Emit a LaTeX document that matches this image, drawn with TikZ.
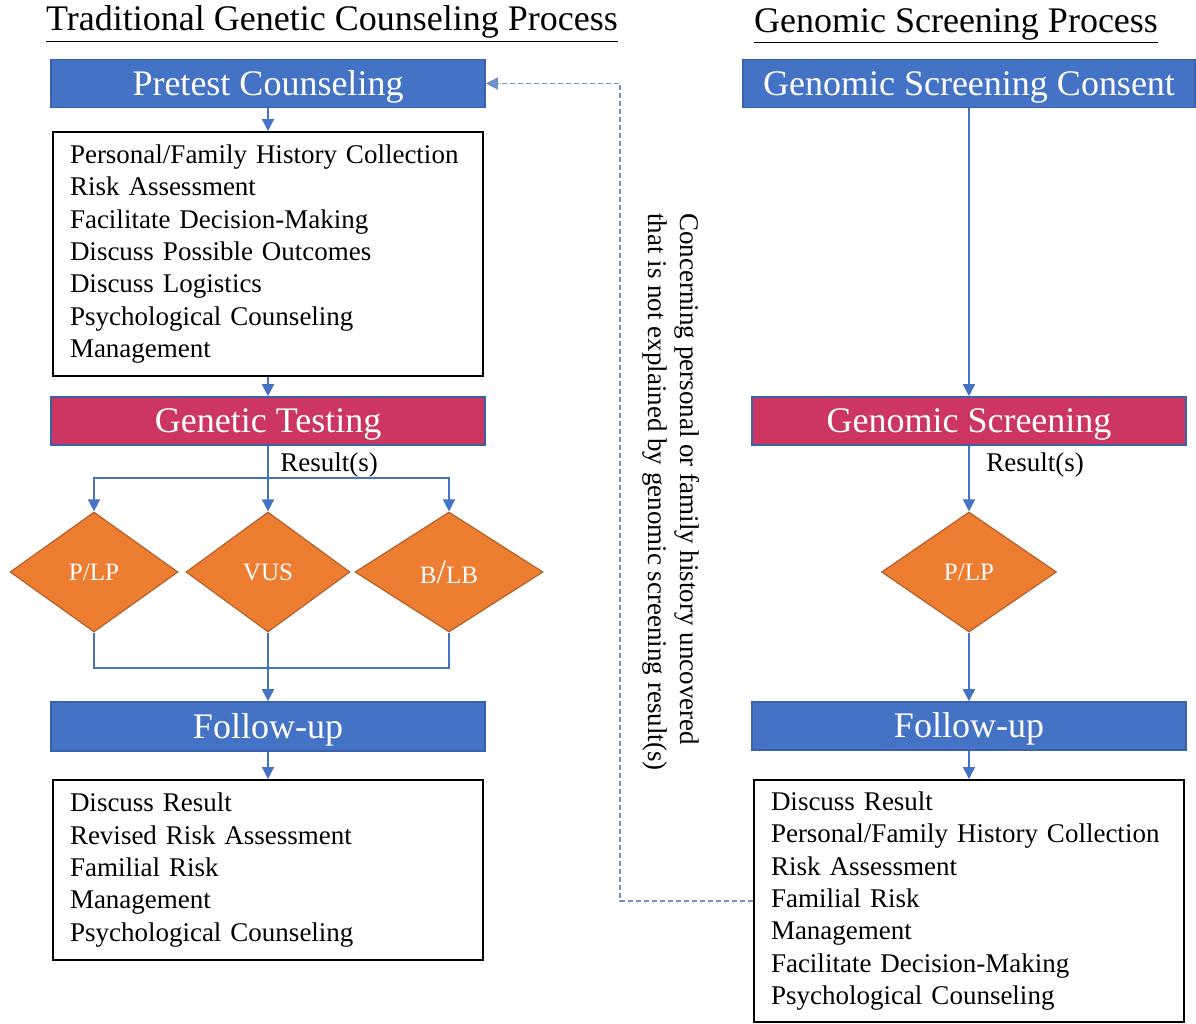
\documentclass[tikz,border=0pt]{standalone}
\usepackage{fontspec}
\setmainfont{Liberation Serif}
\usetikzlibrary{arrows.meta,shapes.geometric}
\definecolor{boxblue}{HTML}{4472C4}
\definecolor{edgeblue}{HTML}{3A62AC}
\definecolor{testred}{HTML}{CC3660}
\definecolor{resorange}{HTML}{ED7D31}
\definecolor{resedge}{HTML}{B4612A}
\definecolor{noteblue}{HTML}{6F8FC8}
\begin{document}
\begin{tikzpicture}[x=0.5pt,y=-0.5pt]
\tikzstyle{every node}+=[inner sep=0pt]
\tikzstyle{stagebox}=[draw=edgeblue,line width=0.8pt,fill=boxblue,text=white,minimum width=217pt,minimum height=24pt,text height=11.5pt,text depth=0pt,font=\fontsize{18}{20}\selectfont]
\tikzstyle{labbox}=[stagebox,fill=testred]
\tikzstyle{listbox}=[draw=black,line width=1pt,text width=198pt,inner xsep=8.5pt,align=left,font=\fontsize{13.5}{16.15}\selectfont]
\tikzstyle{result}=[diamond,draw=resedge,line width=0.6pt,fill=resorange,text=white,minimum height=60pt,font=\fontsize{12.5}{14}\selectfont]
\tikzstyle{flow}=[boxblue,line width=0.8pt]
\tikzstyle{flowarr}=[flow,-{Triangle[length=6pt,width=6pt]}]
\tikzstyle{noteline}=[noteblue,line width=0.6pt,dash pattern=on 2.5pt off 1.5pt,-{Triangle[length=6pt,width=6pt]}]
\tikzstyle{heading}=[font=\fontsize{18}{20}\selectfont]
\tikzstyle{small}=[font=\fontsize{13.5}{16.15}\selectfont]
\useasboundingbox (0,0) rectangle (1196,1024);
\node[heading] (tradtitle) at (332,24) {\underline{Traditional Genetic Counseling Process}};
\node[heading] (gstitle) at (956,26) {\underline{Genomic Screening Process}};
\node[stagebox] (pretest) at (268,83.5) {Pretest Counseling};
\node[listbox,minimum height=122pt] (hist) at (268,254) {Personal/Family History Collection\\Risk Assessment\\Facilitate Decision-Making\\Discuss Possible Outcomes\\Discuss Logistics\\Psychological Counseling\\Management};
\node[labbox] (gentest) at (268,421) {Genetic Testing};
\node[small,anchor=west] (res1) at (280,464.5) {Result(s)};
\coordinate (split) at (268,478);
\node[result,minimum width=84pt] (plp1) at (94,572) {P/LP};
\node[result,minimum width=82pt] (vus) at (268,572) {VUS};
\node[result,minimum width=94pt] (blb) at (449,572) {B{\fontsize{17}{17}\selectfont/}LB};
\coordinate (join) at (268,668);
\node[stagebox,minimum height=24.5pt] (fu1) at (268,726.5) {Follow-up};
\node[listbox,minimum height=90pt] (post1) at (268,870) {Discuss Result\\Revised Risk Assessment\\Familial Risk\\Management\\Psychological Counseling};
\node[stagebox,minimum width=226pt] (consent) at (969,83.5) {Genomic Screening Consent};
\node[labbox] (gscreen) at (969,421) {Genomic Screening};
\node[small,anchor=west] (res2) at (986,464.5) {Result(s)};
\node[result,minimum width=87.5pt] (plp2) at (969,572) {P/LP};
\node[stagebox] (fu2) at (969,726) {Follow-up};
\node[listbox,minimum height=121pt] (post2) at (969,901) {Discuss Result\\Personal/Family History Collection\\Risk Assessment\\Familial Risk\\Management\\Facilitate Decision-Making\\Psychological Counseling};
\coordinate (bend) at (620,83.5);
\node[small,rotate=-90,anchor=north west,align=left] (note) at (700,213) {Concerning personal or family history uncovered\\that is not explained by genomic screening result(s)};
\draw[flowarr] (pretest) -- (hist);
\draw[flowarr] (hist) -- (gentest);
\draw[flowarr] (gentest) -- (vus);
\draw[flowarr] (split) -| (plp1.north);
\draw[flowarr] (split) -| (blb.north);
\draw[flow] (plp1.south) |- (join) -| (blb.south);
\draw[flowarr] (vus) -- (fu1);
\draw[flowarr] (fu1) -- (post1);
\draw[flowarr] (consent) -- (gscreen);
\draw[flowarr] (gscreen) -- (plp2);
\draw[flowarr] (plp2) -- (fu2);
\draw[flowarr] (fu2) -- (post2);
\draw[noteline] (post2.west) -| (bend) -- (pretest.east);
\end{tikzpicture}
\end{document}
